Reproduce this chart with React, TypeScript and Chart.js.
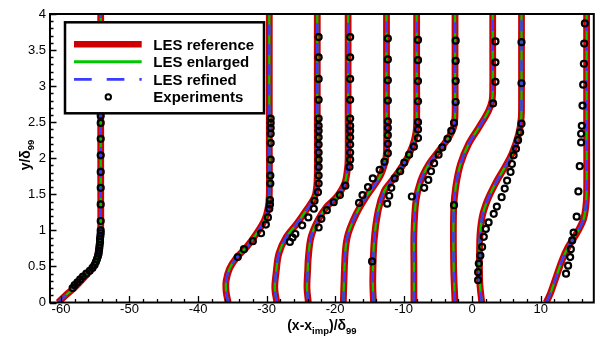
import React, { useEffect, useRef } from 'react';
import { Chart, registerables } from 'chart.js';

Chart.register(...registerables);

// ---------- axis / label data ----------
const xTicks = [-60, -50, -40, -30, -20, -10, 0, 10];
const yTicks = [0, 0.5, 1, 1.5, 2, 2.5, 3, 3.5, 4];
const xRange = [-61.6, 17.75];
const yRange = [0, 4];
const legendLabels = ['LES reference', 'LES enlarged', 'LES refined', 'Experiments'];
const xTitleParts: [string, boolean][] = [['(x-x', false], ['imp', true], [')/δ', false], ['99', true]];
const yTitleParts: [string, boolean][] = [['y/δ', false], ['99', true]];

// ---------- LES profiles (x, y) ----------
const les1 = [[-60.4, 0], [-59.3, 0.1], [-58.1, 0.2], [-56.6, 0.35], [-55.5, 0.47], [-54.9, 0.58], [-54.5, 0.72], [-54.3, 0.87], [-54.2, 1.05], [-54.2, 1.5], [-54.2, 2.5], [-54.2, 4]];
const les2 = [[-35.6, 0], [-35.9, 0.15], [-35.9, 0.3], [-35.4, 0.47], [-34.4, 0.62], [-32.9, 0.77], [-31.5, 0.95], [-30.3, 1.14], [-29.8, 1.3], [-29.6, 1.5], [-29.6, 2.2], [-29.6, 3], [-29.6, 4]];
const les3 = [[-28.5, 0], [-28.8, 0.2], [-28.6, 0.42], [-28.2, 0.68], [-27.1, 0.91], [-25.6, 1.09], [-24.2, 1.28], [-23.0, 1.46], [-22.7, 1.6], [-22.6, 1.8], [-22.6, 2.5], [-22.6, 3.2], [-22.6, 4]];
const les4 = [[-23.9, 0], [-24.1, 0.2], [-24.0, 0.45], [-23.9, 0.63], [-23.5, 0.91], [-22.5, 1.14], [-21.3, 1.32], [-19.8, 1.46], [-18.6, 1.65], [-18.2, 1.85], [-18.1, 2.0], [-18.1, 2.7], [-18.1, 4]];
const les5 = [[-18.8, 0], [-18.7, 0.3], [-18.5, 0.72], [-18.1, 0.95], [-16.9, 1.23], [-15.5, 1.46], [-13.5, 1.74], [-12.7, 1.95], [-12.5, 2.1], [-12.5, 2.8], [-12.5, 4]];
const les6 = [[-14.4, 0], [-14.5, 0.3], [-14.3, 0.86], [-13.7, 1.28], [-12.8, 1.55], [-11.7, 1.69], [-10.5, 1.85], [-9.5, 2.0], [-8.7, 2.17], [-8.25, 2.33], [-8.1, 2.5], [-8.1, 3.2], [-8.1, 4]];
const les7 = [[-8.5, 0], [-8.5, 0.5], [-8.5, 0.95], [-8.2, 1.41], [-7.5, 1.69], [-6.3, 1.92], [-4.8, 2.11], [-3.4, 2.29], [-2.7, 2.43], [-2.5, 2.6], [-2.5, 3.2], [-2.5, 4]];
const les8 = [[-2.5, 0], [-2.7, 0.5], [-2.7, 1.28], [-2.4, 1.6], [-1.7, 1.92], [-0.5, 2.2], [1.0, 2.43], [2.4, 2.66], [2.9, 2.8], [3.0, 3.0], [3.0, 3.5], [3.0, 4]];
const les9 = [[1.4, 0], [1.1, 0.3], [1.1, 0.86], [1.45, 1.18], [2.2, 1.41], [3.4, 1.65], [4.8, 1.88], [5.8, 2.06], [6.8, 2.34], [7.15, 2.55], [7.2, 2.8], [7.2, 3.4], [7.2, 4]];
const les10 = [[10.8, 0], [11.4, 0.12], [12.1, 0.31], [13.1, 0.58], [14.0, 0.77], [15.2, 0.95], [16.2, 1.14], [16.55, 1.3], [16.7, 1.5], [16.7, 2.5], [16.7, 4]];

// ---------- Experiments (x, y) ----------
const exp1 = [[-54.2, 3.67], [-54.2, 3.38], [-54.2, 3.1], [-54.2, 2.82], [-54.2, 2.59], [-54.2, 2.49], [-54.2, 2.27], [-54.2, 2.04], [-54.2, 1.81], [-54.2, 1.59], [-54.2, 1.36], [-54.2, 1.13], [-54.2, 1.0], [-54.2, 0.96], [-54.25, 0.92], [-54.3, 0.88], [-54.3, 0.84], [-54.35, 0.8], [-54.4, 0.76], [-54.45, 0.72], [-54.5, 0.68], [-54.6, 0.64], [-54.75, 0.6], [-54.9, 0.56], [-55.1, 0.52], [-55.4, 0.48], [-55.8, 0.44], [-56.3, 0.4], [-56.8, 0.36], [-57.2, 0.32], [-57.6, 0.28], [-58.0, 0.24], [-58.3, 0.2]];
const exp2 = [[-29.4, 2.55], [-29.4, 2.49], [-29.4, 2.42], [-29.4, 2.34], [-29.4, 2.21], [-29.4, 1.98], [-29.45, 1.76], [-29.45, 1.65], [-29.5, 1.42], [-29.5, 1.36], [-29.6, 1.3], [-29.8, 1.18], [-30.1, 1.08], [-30.8, 0.96], [-32.0, 0.85], [-33.3, 0.74], [-34.2, 0.63]];
const exp3 = [[-22.4, 3.68], [-22.4, 3.4], [-22.4, 3.1], [-22.4, 2.81], [-22.4, 2.55], [-22.4, 2.45], [-22.4, 2.38], [-22.4, 2.29], [-22.4, 2.19], [-22.4, 2.08], [-22.4, 1.98], [-22.4, 1.88], [-22.4, 1.76], [-22.4, 1.65], [-22.5, 1.53], [-23.0, 1.41], [-23.1, 1.3], [-23.9, 1.18], [-24.8, 1.07], [-25.8, 0.95], [-26.2, 0.9], [-26.6, 0.84]];
const exp4 = [[-17.8, 3.68], [-17.8, 3.4], [-17.8, 3.1], [-17.8, 2.81], [-17.8, 2.55], [-17.8, 2.45], [-17.8, 2.38], [-17.8, 2.29], [-17.8, 2.19], [-17.8, 2.08], [-17.8, 1.98], [-17.9, 1.88], [-18.5, 1.62], [-19.3, 1.49], [-20.2, 1.39], [-21.2, 1.28], [-22.0, 1.16], [-22.4, 1.04]];
const exp5 = [[-12.3, 3.66], [-12.3, 3.37], [-12.3, 3.08], [-12.3, 2.8], [-12.3, 2.51], [-12.3, 2.42], [-12.3, 2.32], [-12.3, 2.2], [-12.3, 2.07], [-12.8, 1.95], [-13.5, 1.84], [-14.5, 1.72], [-15.2, 1.6], [-16.0, 1.49], [-16.5, 1.38], [-14.6, 0.57]];
const exp6 = [[-7.9, 3.64], [-7.9, 3.36], [-7.9, 3.07], [-7.9, 2.79], [-7.9, 2.5], [-7.9, 2.4], [-7.9, 2.28], [-8.5, 2.16], [-9.2, 2.05], [-9.9, 1.94], [-10.5, 1.82], [-11.3, 1.72], [-11.8, 1.59], [-12.1, 1.48], [-12.4, 1.37]];
const exp7 = [[-2.4, 3.63], [-2.4, 3.35], [-2.4, 3.07], [-2.4, 2.78], [-2.65, 2.49], [-3.05, 2.38], [-3.6, 2.27], [-4.35, 2.15], [-4.9, 2.05], [-5.55, 1.93], [-6.0, 1.82], [-6.4, 1.7], [-7.0, 1.59], [-8.8, 1.47]];
const exp8 = [[3.4, 3.62], [3.4, 3.33], [3.4, 3.06], [3.05, 2.76], [-2.65, 1.35]];
const exp9 = [[7.2, 3.61], [7.2, 3.04], [7.2, 2.48], [7.0, 2.36], [6.7, 2.25], [6.4, 2.13], [6.05, 2.04], [5.8, 1.92], [5.6, 1.81], [5.1, 1.69], [4.75, 1.58], [4.3, 1.46], [3.6, 1.33], [3.15, 1.23], [2.4, 1.11], [2.0, 1.02], [1.7, 0.91], [1.45, 0.77], [1.2, 0.65], [0.97, 0.54], [0.87, 0.42], [0.87, 0.31]];
const exp10 = [[16.45, 3.87], [16.35, 3.59], [16.3, 3.31], [16.2, 3.02], [16.1, 2.73], [16.0, 2.45], [15.9, 2.34], [15.9, 2.22], [15.7, 1.89], [15.5, 1.54], [15.25, 1.19], [14.8, 0.97], [14.6, 0.86], [14.4, 0.74], [14.3, 0.63], [14.0, 0.51], [13.7, 0.4]];

const lesProfiles = [les1, les2, les3, les4, les5, les6, les7, les8, les9, les10];
const expProfiles = [exp1, exp2, exp3, exp4, exp5, exp6, exp7, exp8, exp9, exp10];

// ---------- styles ----------
const FONT = '"Liberation Sans", Arial, Helvetica, sans-serif';
const RED = '#d00000';
const GREEN = '#00c800';
const BLUE = '#3a3cff';

const toPts = (arr: number[][]) => arr.map(([x, y]) => ({ x, y }));

function drawRich(ctx: CanvasRenderingContext2D, parts: [string, boolean][], x: number, y: number, main: number, sub: number) {
  const mainFont = `bold ${main}px ${FONT}`;
  const subFont = `bold ${sub}px ${FONT}`;
  let total = 0;
  for (const [t, s] of parts) {
    ctx.font = s ? subFont : mainFont;
    total += ctx.measureText(t).width;
  }
  let cx = x - total / 2;
  ctx.textAlign = 'left';
  ctx.textBaseline = 'alphabetic';
  ctx.fillStyle = '#000';
  for (const [t, s] of parts) {
    ctx.font = s ? subFont : mainFont;
    ctx.fillText(t, cx, y + (s ? 3.5 : 0));
    cx += ctx.measureText(t).width;
  }
}

const decorPlugin = {
  id: 'decor',
  afterDatasetsDraw(chart: any) {
    const ctx: CanvasRenderingContext2D = chart.ctx;
    const { left, right, top, bottom } = chart.chartArea;
    const xs = chart.scales.x;
    const ys = chart.scales.y;
    ctx.save();
    // ticks (inward)
    ctx.strokeStyle = '#000';
    ctx.lineWidth = 1.3;
    ctx.beginPath();
    for (let v = -60; v <= xRange[1]; v += 2) {
      const px = Math.round(xs.getPixelForValue(v)) + 0.5;
      const major = xTicks.includes(v);
      ctx.moveTo(px, bottom);
      ctx.lineTo(px, bottom - (major ? 6.5 : 3.5));
    }
    for (let i = 0; i <= 40; i++) {
      const v = i / 10;
      const py = Math.round(ys.getPixelForValue(v)) + 0.5;
      const major = i % 5 === 0;
      ctx.moveTo(left, py);
      ctx.lineTo(left + (major ? 6.5 : 3.5), py);
    }
    ctx.stroke();
    // frame
    ctx.lineWidth = 2;
    ctx.strokeRect(left, top, right - left, bottom - top);

    // legend
    const bx = 65, by = 22.3, bw = 199, bh = 91;
    ctx.fillStyle = '#fff';
    ctx.fillRect(bx, by, bw, bh);
    ctx.lineWidth = 2.5;
    ctx.strokeStyle = '#000';
    ctx.strokeRect(bx, by, bw, bh);
    const rows = [44.3, 61.7, 79.3, 96.9];
    const x0 = 74, x1 = 141.7;
    ctx.lineCap = 'butt';
    ctx.strokeStyle = RED; ctx.lineWidth = 6.5;
    ctx.beginPath(); ctx.moveTo(x0, rows[0]); ctx.lineTo(x1, rows[0]); ctx.stroke();
    ctx.strokeStyle = GREEN; ctx.lineWidth = 3;
    ctx.beginPath(); ctx.moveTo(x0, rows[1]); ctx.lineTo(x1, rows[1]); ctx.stroke();
    ctx.strokeStyle = BLUE; ctx.lineWidth = 2.7; ctx.setLineDash([17.7, 15]);
    ctx.beginPath(); ctx.moveTo(x0, rows[2]); ctx.lineTo(x1, rows[2]); ctx.stroke();
    ctx.setLineDash([]);
    ctx.strokeStyle = '#000'; ctx.lineWidth = 2;
    ctx.beginPath(); ctx.arc(108.3, rows[3], 2.7, 0, Math.PI * 2); ctx.stroke();
    ctx.fillStyle = '#000';
    ctx.font = `bold 15px ${FONT}`;
    ctx.textAlign = 'left';
    ctx.textBaseline = 'alphabetic';
    legendLabels.forEach((t, i) => ctx.fillText(t, 153.3, rows[i] + 5.2));

    // axis titles
    drawRich(ctx, xTitleParts, (left + right) / 2, 330, 14, 9.5);
    ctx.translate(30, 155);
    ctx.rotate(-Math.PI / 2);
    drawRich(ctx, yTitleParts, 0, 0, 14, 9.5);
    ctx.restore();
  },
};

export default function App() {
  const ref = useRef<HTMLCanvasElement>(null);
  useEffect(() => {
    const datasets: any[] = [];
    lesProfiles.forEach((p, i) => {
      const data = toPts(p);
      const base = { data, showLine: true, pointRadius: 0, tension: 0.35, fill: false };
      datasets.push({ ...base, label: `${legendLabels[0]} ${i + 1}`, borderColor: RED, borderWidth: 6.8, order: 3 });
      datasets.push({ ...base, label: `${legendLabels[1]} ${i + 1}`, borderColor: GREEN, borderWidth: 2.3, order: 2 });
      datasets.push({ ...base, label: `${legendLabels[2]} ${i + 1}`, borderColor: BLUE, borderWidth: 2.5, borderDash: [11, 9], order: 1 });
    });
    expProfiles.forEach((p, i) => {
      datasets.push({
        label: `${legendLabels[3]} ${i + 1}`,
        data: toPts(p),
        showLine: false,
        pointRadius: 3,
        pointBorderWidth: 2.2,
        pointBorderColor: '#000',
        pointBackgroundColor: 'rgba(0,0,0,0)',
        order: 0,
      });
    });

    const chart = new Chart(ref.current as HTMLCanvasElement, {
      type: 'scatter',
      data: { datasets },
      options: {
        animation: false,
        responsive: false,
        devicePixelRatio: 1,
        events: [],
        layout: { padding: { top: 14, right: 4, left: 0, bottom: 0 } },
        plugins: { legend: { display: false }, tooltip: { enabled: false } },
        scales: {
          x: {
            type: 'linear',
            min: xRange[0],
            max: xRange[1],
            grid: { display: false, drawTicks: false },
            border: { display: false },
            ticks: {
              color: '#000',
              font: { family: FONT, size: 13, lineHeight: 1 },
              padding: 0,
              maxRotation: 0,
              autoSkip: false,
              callback: (v: any) => String(v),
            },
            afterBuildTicks: (s: any) => { s.ticks = xTicks.map((v) => ({ value: v })); },
            afterFit: (s: any) => { s.height = 35.5; },
          },
          y: {
            type: 'linear',
            min: yRange[0],
            max: yRange[1],
            grid: { display: false, drawTicks: false },
            border: { display: false },
            ticks: {
              color: '#000',
              font: { family: FONT, size: 13, lineHeight: 1 },
              padding: 4,
              autoSkip: false,
              callback: (v: any) => String(v),
            },
            afterBuildTicks: (s: any) => { s.ticks = yTicks.map((v) => ({ value: v })); },
            afterFit: (s: any) => { s.width = 50; },
          },
        },
      } as any,
      plugins: [decorPlugin],
    });
    return () => chart.destroy();
  }, []);
  return (
    <div style={{ position: 'absolute', left: 0, top: 0, width: 600, height: 338, background: '#fff' }}>
      <canvas ref={ref} width={600} height={338} style={{ display: 'block', width: '600px', height: '338px' }} />
    </div>
  );
}
